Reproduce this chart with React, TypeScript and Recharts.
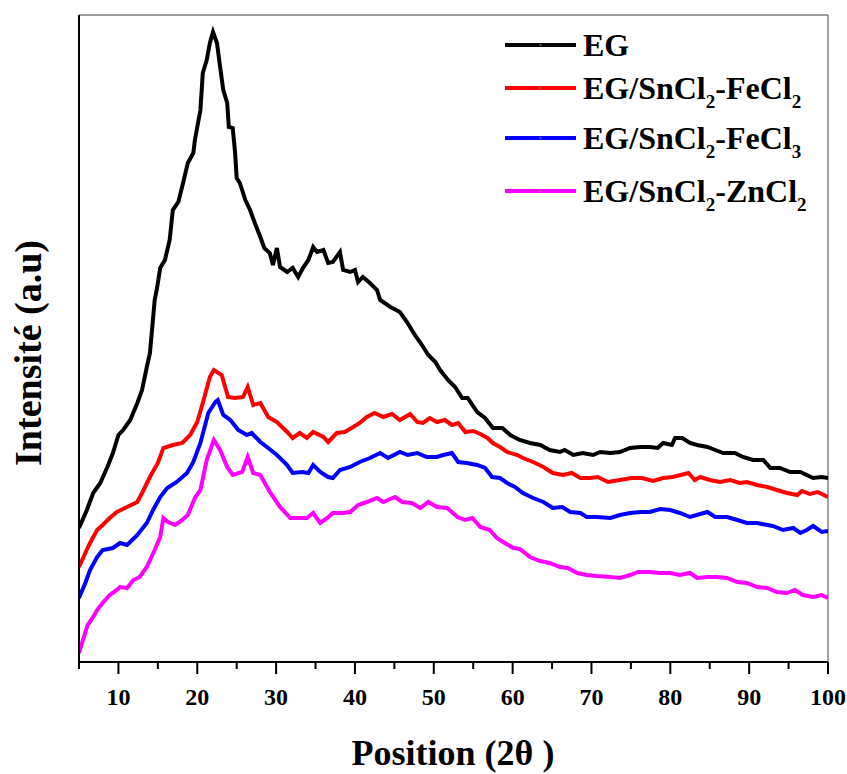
import React from 'react';
import { LineChart, Line, XAxis, YAxis, ReferenceLine, Legend, Label } from 'recharts';

// 2θ positions of axis ticks (multiples of 10 get labels)
const xTicks = [5, 10, 15, 20, 25, 30, 35, 40, 45, 50, 55, 60, 65, 70, 75, 80, 85, 90, 95, 100];

// [2θ, intensity (a.u.)]
const egPoints = [
  [5.0, 134], [6.0, 152], [6.8, 169], [7.7, 179], [8.6, 195], [9.3, 209], [10.0, 227], [10.6, 232],
  [11.5, 242], [12.4, 259], [13.0, 272], [13.6, 295], [14.0, 309], [14.6, 362], [14.9, 374], [15.3, 394],
  [15.9, 402], [16.5, 422], [16.9, 452], [17.6, 460], [18.2, 479], [18.8, 499], [19.5, 509], [19.7, 522],
  [20.4, 552], [20.7, 589], [21.2, 602], [21.6, 619], [22.0, 630], [22.5, 619], [22.9, 595], [23.3, 572],
  [23.8, 559], [24.0, 535], [24.5, 534], [24.8, 509], [25.0, 484], [25.4, 479], [26.1, 462], [26.7, 452],
  [27.3, 439], [28.0, 425], [28.5, 414], [29.2, 409], [29.6, 397], [30.1, 414], [30.5, 395], [31.4, 390],
  [32.1, 394], [32.8, 385], [33.4, 394], [34.1, 402], [34.7, 415], [35.2, 410], [36.0, 412], [36.6, 399],
  [37.2, 400], [38.1, 410], [38.5, 392], [39.4, 390], [40.0, 392], [40.4, 380], [41.0, 385], [41.9, 379],
  [42.8, 372], [43.2, 362], [44.5, 355], [45.7, 350], [46.6, 340], [47.6, 327], [48.5, 317], [49.3, 307],
  [50.2, 300], [50.8, 292], [51.8, 282], [52.7, 275], [53.6, 264], [54.3, 264], [55.5, 250], [56.5, 244],
  [57.5, 234], [58.7, 234], [59.7, 227], [60.9, 222], [62.2, 219], [63.5, 217], [64.7, 212], [66.0, 210],
  [66.6, 212], [67.7, 207], [68.9, 209], [70.2, 207], [71.1, 210], [72.4, 209], [73.6, 210], [74.9, 214],
  [76.2, 215], [77.4, 215], [78.4, 214], [79.1, 219], [80.2, 217], [80.6, 224], [81.5, 224], [82.5, 219],
  [83.4, 217], [84.7, 215], [85.7, 212], [86.7, 209], [88.2, 209], [89.2, 205], [90.5, 202], [91.8, 202],
  [92.7, 194], [93.9, 194], [95.2, 190], [96.5, 190], [97.3, 187], [98.1, 184], [99.2, 185], [100.0, 184],
];

const feCl2Points = [
  [5.0, 95], [5.8, 109], [6.4, 119], [7.3, 132], [8.0, 137], [8.9, 144], [9.8, 150], [11.1, 155],
  [12.4, 160], [13.0, 169], [14.0, 185], [15.0, 199], [15.7, 214], [16.9, 217], [18.1, 219], [19.1, 227],
  [20.0, 240], [20.7, 259], [21.6, 285], [22.1, 292], [23.1, 287], [23.9, 265], [24.8, 264], [25.8, 265],
  [26.4, 275], [27.1, 257], [28.0, 259], [29.0, 245], [30.1, 240], [31.4, 230], [32.1, 224], [33.0, 229],
  [33.9, 224], [34.7, 230], [36.0, 225], [36.6, 220], [37.7, 229], [38.7, 230], [39.8, 235], [40.6, 239],
  [41.5, 245], [42.5, 249], [43.6, 245], [44.7, 248], [45.7, 242], [47.0, 248], [47.9, 240], [48.6, 239],
  [49.5, 244], [50.4, 240], [51.4, 242], [52.3, 237], [53.1, 239], [54.0, 230], [55.0, 231], [55.9, 228],
  [56.8, 224], [57.5, 219], [58.4, 215], [59.3, 210], [60.6, 207], [61.3, 204], [62.6, 200], [63.9, 195],
  [65.1, 189], [66.4, 187], [67.5, 189], [68.6, 184], [69.8, 184], [70.8, 185], [72.1, 180], [73.6, 182],
  [75.1, 184], [76.4, 184], [77.8, 181], [79.1, 184], [80.3, 185], [82.3, 189], [83.1, 182], [83.8, 185],
  [85.0, 182], [86.3, 180], [87.6, 182], [88.8, 179], [89.7, 180], [91.0, 177], [92.3, 175], [93.5, 172],
  [94.8, 169], [96.1, 167], [96.7, 171], [97.7, 168], [98.7, 170], [100.0, 165],
];

const feCl3Points = [
  [5.0, 64], [5.8, 79], [6.4, 92], [7.3, 105], [8.0, 112], [9.3, 114], [10.2, 119], [11.1, 117],
  [12.4, 127], [13.6, 139], [14.4, 152], [15.3, 165], [16.2, 174], [17.4, 180], [18.7, 189], [19.5, 200],
  [20.4, 219], [21.4, 249], [22.3, 260], [22.6, 262], [23.3, 247], [24.2, 242], [25.2, 232], [26.3, 227],
  [26.9, 229], [28.0, 220], [29.0, 214], [30.1, 207], [31.4, 197], [32.1, 189], [33.3, 190], [34.1, 189],
  [34.7, 197], [35.6, 190], [36.6, 185], [37.2, 184], [38.1, 192], [39.4, 195], [40.6, 200], [41.9, 204],
  [43.2, 209], [44.2, 204], [45.7, 210], [46.7, 207], [47.9, 209], [49.1, 205], [50.4, 205], [51.2, 207],
  [52.3, 209], [53.1, 200], [54.2, 199], [55.5, 197], [56.5, 194], [57.4, 185], [58.4, 184], [59.3, 179],
  [60.3, 175], [61.3, 169], [62.6, 164], [63.9, 160], [65.1, 154], [66.3, 155], [67.3, 150], [68.6, 149],
  [69.4, 145], [70.7, 145], [72.4, 144], [73.6, 147], [74.9, 149], [76.2, 150], [77.4, 150], [78.7, 153],
  [80.0, 152], [81.2, 149], [82.5, 145], [83.8, 148], [84.7, 150], [85.7, 145], [87.2, 145], [88.5, 142],
  [89.7, 139], [91.0, 139], [92.3, 137], [93.0, 136], [94.3, 132], [95.6, 134], [96.5, 129], [97.3, 132],
  [98.1, 136], [99.2, 130], [100.0, 131],
];

const znCl2Points = [
  [5.0, 9], [5.5, 22], [6.1, 37], [6.8, 45], [7.3, 52], [8.0, 59], [8.9, 67], [9.8, 72],
  [10.2, 75], [11.1, 74], [11.9, 82], [12.7, 85], [13.6, 95], [14.6, 112], [15.3, 125], [15.7, 144],
  [16.3, 140], [17.2, 137], [18.1, 142], [18.8, 147], [19.7, 164], [20.4, 172], [21.2, 202], [22.1, 222],
  [22.9, 212], [23.8, 195], [24.5, 187], [25.7, 190], [26.4, 205], [27.1, 189], [28.0, 187], [29.2, 170],
  [30.5, 155], [31.8, 144], [33.0, 144], [33.9, 144], [34.7, 149], [35.6, 139], [36.5, 144], [37.2, 149],
  [38.5, 149], [39.4, 150], [40.4, 157], [41.5, 160], [42.8, 164], [43.6, 160], [45.1, 165], [46.0, 160],
  [47.2, 159], [48.3, 154], [49.3, 160], [50.4, 155], [51.7, 154], [53.0, 145], [54.0, 142], [54.9, 144],
  [55.9, 135], [57.1, 132], [58.0, 124], [59.0, 119], [60.1, 114], [60.9, 113], [62.2, 105], [63.5, 101],
  [64.7, 99], [66.0, 95], [67.0, 94], [68.2, 89], [69.4, 87], [70.7, 86], [72.4, 85], [73.6, 84],
  [74.9, 87], [75.9, 90], [77.4, 90], [78.7, 89], [80.0, 89], [81.2, 87], [82.5, 89], [83.4, 84],
  [84.7, 85], [85.9, 85], [87.2, 84], [88.5, 80], [89.7, 79], [91.0, 75], [92.3, 74], [93.5, 70],
  [94.8, 69], [95.8, 72], [96.8, 67], [98.1, 65], [99.2, 67], [100.0, 64],
];

const seriesNames = ['EG', 'EG/SnCl2-FeCl2', 'EG/SnCl2-FeCl3', 'EG/SnCl2-ZnCl2'];
const seriesColors = ['#000000', '#ff0000', '#0000ff', '#ff00ff'];
const seriesPoints = [egPoints, feCl2Points, feCl3Points, znCl2Points];

const toRows = (pts: number[][]) => pts.map(([x, y]) => ({ x, y }));

const FONT = "'Liberation Serif', 'Times New Roman', serif";

const legendLineY = [45, 88, 138, 191];

const renderName = (name: string) =>
  name.split(/(\d)/).filter((s) => s !== '').map((part, i) =>
    /^\d$/.test(part) ? (
      <span key={i} style={{ fontSize: 19, position: 'relative', top: 9 }}>{part}</span>
    ) : (
      <span key={i}>{part}</span>
    )
  );

const LegendContent = () => (
  <div style={{ position: 'relative', width: 847, height: 0 }}>
    {seriesNames.map((name, i) => (
      <div
        key={name}
        style={{
          position: 'absolute',
          left: 505,
          top: legendLineY[i] - 25,
          height: 50,
          display: 'flex',
          alignItems: 'center',
          whiteSpace: 'nowrap',
        }}
      >
        <svg width={71} height={8} style={{ display: 'block' }}>
          <line x1={0} x2={71} y1={4} y2={4} stroke={seriesColors[i]} strokeWidth={4} />
          <circle cx={35.5} cy={4} r={1.2} fill="#888" opacity={0.6} />
        </svg>
        <span
          style={{
            marginLeft: 7,
            fontFamily: FONT,
            fontWeight: 'bold',
            fontSize: 32,
            color: '#000',
          }}
        >
          {renderName(name)}
        </span>
      </div>
    ))}
  </div>
);

const XTick = (props: any) => {
  const { x, y, payload } = props;
  const v = payload.value;
  const major = v % 10 === 0;
  return (
    <g>
      <line x1={x} x2={x} y1={y} y2={y + (major ? 12 : 7)} stroke="#000" strokeWidth={2} />
      {major && (
        <text
          x={x}
          y={y + 43}
          textAnchor="middle"
          fontFamily={FONT}
          fontWeight="bold"
          fontSize={24}
          fill="#000"
        >
          {v}
        </text>
      )}
    </g>
  );
};

export default function App() {
  return (
    <div style={{ position: 'absolute', left: 0, top: 0, width: 847, height: 774, background: '#fff' }}>
      <LineChart
        width={847}
        height={774}
        margin={{ top: 15, right: 19, bottom: 0, left: 0 }}
      >
        <XAxis
          dataKey="x"
          type="number"
          domain={[5, 100]}
          ticks={xTicks}
          interval={0}
          height={112}
          tickLine={false}
          tickSize={0}
          tickMargin={0}
          tick={<XTick />}
          axisLine={{ stroke: '#000', strokeWidth: 2 }}
          allowDataOverflow
        >
          <Label
            content={() => (
              <text
                x={453}
                y={765}
                textAnchor="middle"
                fontFamily={FONT}
                fontWeight="bold"
                fontSize={36}
                fill="#000"
              >
                Position (2θ )
              </text>
            )}
          />
        </XAxis>
        <YAxis
          type="number"
          domain={[0, 647]}
          width={79}
          tick={false}
          tickLine={false}
          axisLine={{ stroke: '#000', strokeWidth: 2 }}
          allowDataOverflow
        >
          <Label
            content={() => (
              <text
                x={41}
                y={353}
                transform="rotate(-90, 41, 353)"
                textAnchor="middle"
                fontFamily={FONT}
                fontWeight="bold"
                fontSize={38}
                fill="#000"
              >
                Intensité (a.u)
              </text>
            )}
          />
        </YAxis>
        <ReferenceLine y={647} stroke="#808080" strokeWidth={1.5} />
        <ReferenceLine x={100} stroke="#808080" strokeWidth={1.5} />
        {seriesNames.map((name, i) => (
          <Line
            key={name}
            name={name}
            data={toRows(seriesPoints[i])}
            dataKey="y"
            type="linear"
            stroke={seriesColors[i]}
            strokeWidth={4}
            dot={false}
            activeDot={false}
            isAnimationActive={false}
          />
        ))}
        <Legend
          verticalAlign="middle"
          layout="horizontal"
          align="center"
          content={<LegendContent />}
          wrapperStyle={{ left: 0, top: 0, width: 847, height: 0 }}
        />
      </LineChart>
    </div>
  );
}
